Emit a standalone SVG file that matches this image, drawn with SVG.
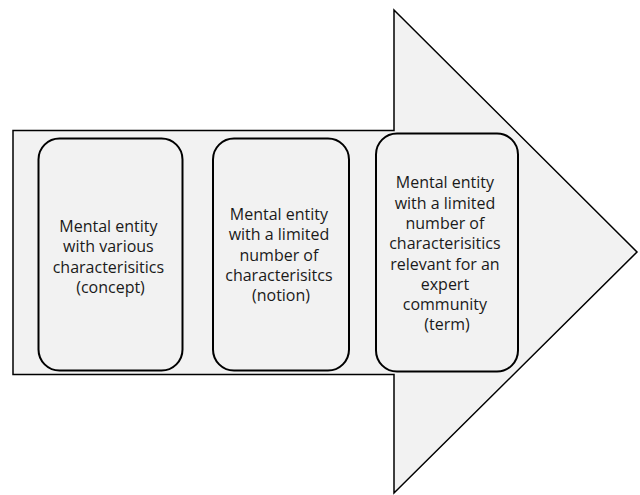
<svg xmlns="http://www.w3.org/2000/svg" width="640" height="495" viewBox="0 0 640 495">
  <style>
    .arrow { fill: #f2f2f2; stroke: #000; stroke-width: 1.5; stroke-linejoin: miter; }
    .box { fill: #f2f2f2; stroke: #000; stroke-width: 2; }
    .label { font-family: "Open Sans", "Noto Sans", "DejaVu Sans", sans-serif; font-size: 16px; fill: #1a1a1a; text-anchor: middle; }
  </style>
  <rect width="640" height="495" fill="#ffffff"/>
  <g id="connectors">
    <polygon id="arrow" class="arrow" points="13,130.5 394,130.5 394,10 637,252 394,493 394,374.5 13,374.5"/>
  </g>
  <g id="node-concept">
    <rect class="box" x="38.5" y="138.5" width="144" height="232" rx="21" ry="21"/>
    <text class="label" x="110.5">
      <tspan x="110.5" y="232">Mental entity</tspan>
      <tspan x="110.5" y="252.3">with various</tspan>
      <tspan x="110.5" y="272.6">characterisitics</tspan>
      <tspan x="110.5" y="292.9">(concept)</tspan>
    </text>
  </g>
  <g id="node-notion">
    <rect class="box" x="213" y="138.5" width="136" height="232" rx="21" ry="21"/>
    <text class="label" x="281">
      <tspan x="281" y="220">Mental entity</tspan>
      <tspan x="281" y="240.3">with a limited</tspan>
      <tspan x="281" y="260.6">number of</tspan>
      <tspan x="281" y="280.9">characterisitcs</tspan>
      <tspan x="281" y="301.2">(notion)</tspan>
    </text>
  </g>
  <g id="node-term">
    <rect class="box" x="376" y="133.5" width="142" height="238" rx="21" ry="21"/>
    <text class="label" x="447">
      <tspan x="447" y="188.3">Mental entity</tspan>
      <tspan x="447" y="208.6">with a limited</tspan>
      <tspan x="447" y="228.9">number of</tspan>
      <tspan x="447" y="249.2">characterisitics</tspan>
      <tspan x="447" y="269.5">relevant for an</tspan>
      <tspan x="447" y="289.8">expert</tspan>
      <tspan x="447" y="310.1">community</tspan>
      <tspan x="447" y="330.4">(term)</tspan>
    </text>
  </g>
</svg>
